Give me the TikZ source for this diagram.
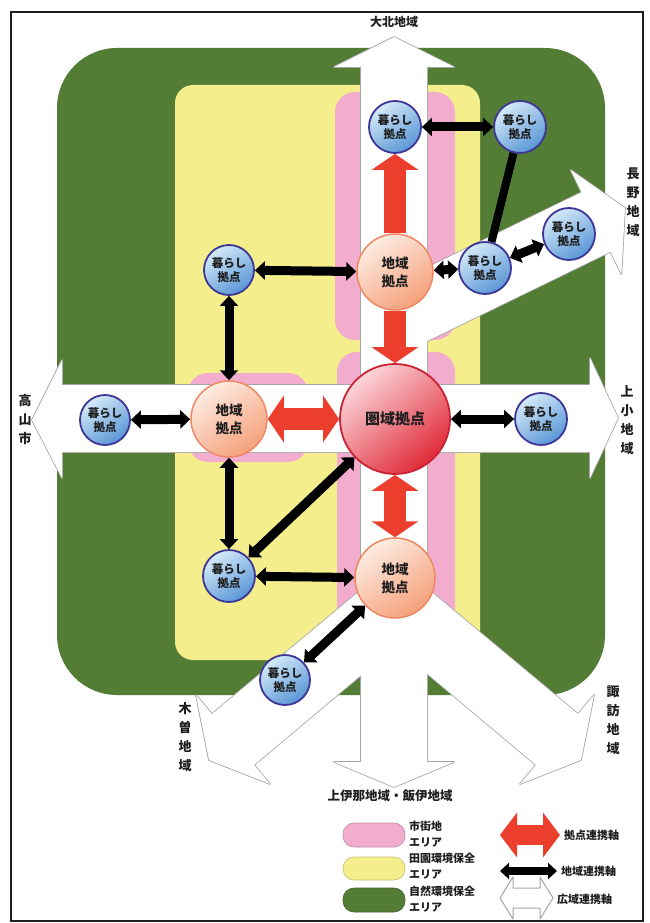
\documentclass[tikz,border=0pt]{standalone}
\usepackage{fontspec}
\setmainfont{Noto Sans CJK JP}
\usetikzlibrary{arrows.meta}

\definecolor{naturegreen}{RGB}{83,124,52}
\definecolor{fieldyellow}{RGB}{244,238,140}
\definecolor{townpink}{RGB}{242,172,206}
\definecolor{hubred}{RGB}{236,62,44}
\definecolor{axisgray}{RGB}{165,165,165}
\definecolor{kuratop}{RGB}{214,234,248}
\definecolor{kurabot}{RGB}{88,150,214}
\definecolor{kuraedge}{RGB}{62,54,150}
\definecolor{chitop}{RGB}{253,236,226}
\definecolor{chibot}{RGB}{245,160,122}
\definecolor{chiedge}{RGB}{238,136,100}
\definecolor{kentop}{RGB}{251,214,218}
\definecolor{kenbot}{RGB}{224,42,56}
\definecolor{kenedge}{RGB}{200,36,52}
\definecolor{inkdark}{RGB}{30,30,30}

% the five wide white axes (drawn once as outline, once as fill)
\newcommand\wideaxes[1]{%
  \path[#1] (361,67) -- (334,67) -- (394,37) -- (454,67) -- (427,67) -- (427,762) -- (454,762) -- (394,787) -- (334,762) -- (361,762) -- cycle;
  \path[#1] (62,385) -- (62,360) -- (32,420) -- (62,478) -- (62,452) -- (590,452) -- (590,478) -- (618,418) -- (590,358) -- (590,385) -- cycle;
  \path[#1] (380.5,290.3) -- (581.5,192.3) -- (570.6,169.9) -- (625,208) -- (621.4,274.1) -- (610.5,251.7) -- (409.5,349.7) -- cycle;
  \path[#1] (380,574) -- (212,714) -- (196,695) -- (209,760) -- (270,784) -- (254,765) -- (422,624) -- cycle;
  \path[#1] (410,574) -- (578,714) -- (594,695) -- (581,760) -- (520,784) -- (536,765) -- (368,624) -- cycle;
}

\begin{document}
\begin{tikzpicture}[x=1pt,y=-1pt,
  kurashi/.style={circle, draw=kuraedge, line width=1.8pt, minimum size=52pt, inner sep=0pt,
    top color=kuratop, bottom color=kurabot, shading angle=35, align=center,
    font=\fontsize{11.5}{14.5}\selectfont\bfseries, text=inkdark},
  chiiki/.style={circle, draw=chiedge, line width=1.5pt, minimum size=76pt, inner sep=0pt,
    top color=chitop, bottom color=chibot, shading angle=35, align=center,
    font=\fontsize{13.5}{18}\selectfont\bfseries, text=inkdark},
  kenhub/.style={circle, draw=kenedge, line width=1.8pt, minimum size=110pt, inner sep=0pt,
    top color=kentop, bottom color=kenbot, shading angle=40, align=center,
    font=\fontsize{15}{18}\selectfont\bfseries, text=inkdark},
  hubone/.style={draw=hubred, line width=22pt, -{Triangle[length=16pt,width=46pt]}},
  hubtwo/.style={draw=hubred, line width=22pt, {Triangle[length=16pt,width=46pt]}-{Triangle[length=16pt,width=46pt]}},
  locallink/.style={draw=black, line width=9pt, {Triangle[length=10pt,width=18pt]}-{Triangle[length=10pt,width=18pt]}},
  plainlink/.style={draw=black, line width=8pt},
  region/.style={font=\fontsize{13}{19}\selectfont\bfseries, text=inkdark, align=center, inner sep=0pt},
  legendtext/.style={font=\fontsize{11}{16}\selectfont\bfseries, text=inkdark, align=left, anchor=west, inner sep=0pt},
  legendpatch/.style={rounded corners=11pt, draw=#1!80!black, line width=0.6pt, fill=#1}
]
\useasboundingbox (0,0) rectangle (650,923);
\fill[white] (0,0) rectangle (650,923);
\draw[line width=1.2pt, inkdark] (11,12) rectangle (643,921);

% land-use zones
\fill[naturegreen, rounded corners=60pt] (57,48) rectangle (605,695);
\fill[fieldyellow, rounded corners=18pt] (175,85) rectangle (480,660);
\fill[townpink, rounded corners=20pt] (335,92) rectangle (455,340);
\fill[townpink, rounded corners=20pt] (337,352) rectangle (455,652);
\fill[townpink, rounded corners=20pt] (188,373) rectangle (308,462);

% wide-area axes
\wideaxes{draw=axisgray, line width=1.6pt, line join=round}
\wideaxes{fill=white}

% hubs
\node[kenhub] (ken) at (395,419) {圏域拠点};
\node[chiiki] (chiN) at (395,272) {地域\\拠点};
\node[chiiki] (chiW) at (229,419) {地域\\拠点};
\node[chiiki, minimum size=80pt] (chiS) at (395,578) {地域\\拠点};

\node[kurashi] (k1) at (395,127) {暮らし\\拠点};
\node[kurashi] (k2) at (520,127) {暮らし\\拠点};
\node[kurashi] (k3) at (485,268) {暮らし\\拠点};
\node[kurashi] (k4) at (569,234) {暮らし\\拠点};
\node[kurashi, minimum size=50pt] (k5) at (229,270) {暮らし\\拠点};
\node[kurashi, minimum size=50pt] (k6) at (105,420) {暮らし\\拠点};
\node[kurashi] (k7) at (541,419) {暮らし\\拠点};
\node[kurashi] (k8) at (229,576) {暮らし\\拠点};
\node[kurashi, minimum size=50pt] (k9) at (285,680) {暮らし\\拠点};

% hub links
\draw[hubone] (chiN) -- (k1);
\draw[hubone] (chiN) -- (ken);
\draw[hubtwo] (chiW) -- (ken);
\draw[hubtwo] (ken) -- (chiS);

% local links
\draw[locallink] (k1) -- (k2);
\draw[plainlink] (k2) -- (k3);
\draw[locallink] (chiN) -- (k3);
\draw[locallink] (k3) -- (k4);
\draw[locallink] (k5) -- (chiN);
\draw[locallink] (k5) -- (chiW);
\draw[locallink] (k6) -- (chiW);
\draw[locallink] (ken) -- (k7);
\draw[locallink] (chiW) -- (k8);
\draw[locallink] (ken) -- (k8);
\draw[locallink] (k8) -- (chiS);
\draw[locallink] (chiS) -- (k9);

% region names
\node[region, font=\fontsize{12}{14}\selectfont\bfseries] (nTaihoku) at (394,22) {大北地域};
\node[region] (nNagano) at (633,202) {長\\野\\地\\域};
\node[region] (nTakayama) at (25,420) {高\\山\\市};
\node[region] (nJoushou) at (627,420) {上\\小\\地\\域};
\node[region] (nKiso) at (185,737) {木\\曽\\地\\域};
\node[region] (nSuwa) at (613,720) {諏\\訪\\地\\域};
\node[region, font=\fontsize{12.5}{14}\selectfont\bfseries] (nIna) at (390,796) {上伊那地域・飯伊地域};

% legend
\path[legendpatch=townpink] (343,823) rectangle (405,847);
\path[legendpatch=fieldyellow] (343,857) rectangle (405,880);
\path[legendpatch=naturegreen] (343,888) rectangle (405,912);
\node[legendtext] (lTown) at (409,834) {市街地\\エリア};
\node[legendtext] (lField) at (409,866) {田園環境保全\\エリア};
\node[legendtext] (lNature) at (409,899) {自然環境保全\\エリア};

\coordinate (hubL) at (500,835);
\coordinate (hubR) at (560,835);
\coordinate (locL) at (500,871);
\coordinate (locR) at (557,871);
\draw[draw=hubred, line width=20pt, {Triangle[length=17pt,width=44pt]}-{Triangle[length=17pt,width=44pt]}] (hubL) -- (hubR);
\draw[draw=black, line width=8pt, {Triangle[length=9pt,width=16pt]}-{Triangle[length=9pt,width=16pt]}] (locL) -- (locR);
\draw[axisgray, line width=1pt, fill=white, line join=round]
  (500,898) -- (513,877) -- (513,888) -- (540,888) -- (540,877) -- (553,898)
  -- (540,919) -- (540,908) -- (513,908) -- (513,919) -- cycle;
\node[legendtext] (lHub) at (564,835) {拠点連携軸};
\node[legendtext] (lLocal) at (561,871) {地域連携軸};
\node[legendtext] (lWide) at (557,899) {広域連携軸};
\end{tikzpicture}
\end{document}
